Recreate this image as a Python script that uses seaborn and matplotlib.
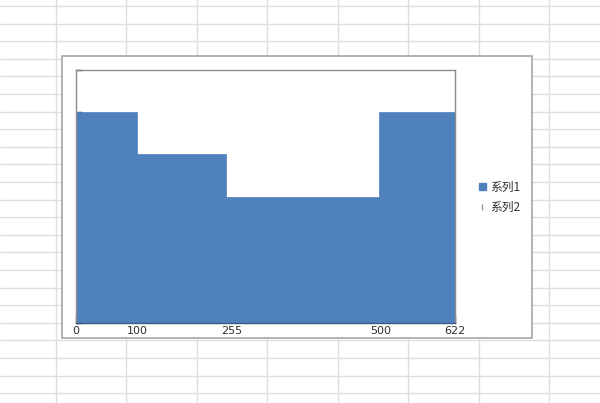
import matplotlib
matplotlib.use("Agg")
import matplotlib.pyplot as plt
import seaborn as sns
import numpy as np
from matplotlib.lines import Line2D
from matplotlib.patches import Rectangle, Patch

# ---- data ----
bar_edges = [0, 100, 246, 497, 622]
series1_heights = [5, 4, 3, 5]
x_tick_values = [0, 100, 255, 500, 622]
x_tick_labels = ["0", "100", "255", "500", "622"]
legend_labels = ["系列1", "系列2"]

sns.set_theme(style="white")
plt.rcParams['font.family'] = ['DejaVu Sans', 'Noto Sans CJK SC']

W, H = 600, 403
fig = plt.figure(figsize=(W / 100, H / 100), dpi=100)
fig.patch.set_facecolor("white")

def fx(px):
    return px / W

def fy(py):
    return 1 - py / H

# spreadsheet gridlines behind chart
grid_col = "#dcdee2"
for k in range(0, 24):
    yy = 6 + 17.6 * k
    if yy > H:
        break
    fig.add_artist(Line2D([0, 1], [fy(yy), fy(yy)], transform=fig.transFigure,
                          color=grid_col, lw=1, zorder=-3))
for k in range(0, 9):
    xx = 55.5 + 70.5 * k
    if xx > W:
        break
    fig.add_artist(Line2D([fx(xx), fx(xx)], [0, 1], transform=fig.transFigure,
                          color=grid_col, lw=1, zorder=-3))

# chart box
fig.add_artist(Rectangle((fx(62), fy(338)), fx(532) - fx(62), fy(56) - fy(338),
                         transform=fig.transFigure, facecolor="white",
                         edgecolor="#a6a6a6", lw=1.2, zorder=-1))

ax = fig.add_axes([fx(76), fy(323), fx(455) - fx(76), fy(70) - fy(323)])
ax.set_zorder(1)

mids = [(a + b) / 2 for a, b in zip(bar_edges[:-1], bar_edges[1:])]
bar_color = "#4F81BD"
sns.histplot(x=mids, weights=series1_heights, bins=bar_edges, color=bar_color,
             alpha=1, linewidth=0.5, edgecolor=bar_color, ax=ax)

ax.set_xlim(x_tick_values[0], x_tick_values[-1])
ax.set_ylim(0, 6)
ax.set_xticks(x_tick_values)
ax.set_xticklabels(x_tick_labels)
ax.set_yticks(range(0, 7))
ax.set_yticklabels([])
ax.set_xlabel("")
ax.set_ylabel("")
ax.tick_params(axis="x", direction="in", length=6, width=1, color="#2c4060",
               labelsize=8, labelcolor="#303030", pad=2, bottom=True)
ax.tick_params(axis="y", direction="in", length=4, width=1, color="#2c4060",
               left=True)
for s in ax.spines.values():
    s.set_color("#8c8c8c")
    s.set_linewidth(1)
ax.spines["bottom"].set_color("#3c5a80")
ax.grid(False)

handles = [Patch(facecolor=bar_color, edgecolor=bar_color),
           Line2D([], [], marker="|", color="#9a9a9a", linestyle="None",
                  markersize=5, markeredgewidth=1)]
fig.legend(handles, legend_labels, loc="center left",
           bbox_to_anchor=(fx(468), fy(197)), frameon=False,
           prop={"family": ["Noto Sans CJK SC", "DejaVu Sans"], "size": 8.5},
           handlelength=0.6, handleheight=0.6, handletextpad=0.4,
           labelspacing=0.6, labelcolor="#303030")

fig.savefig("out.png", dpi=100)
